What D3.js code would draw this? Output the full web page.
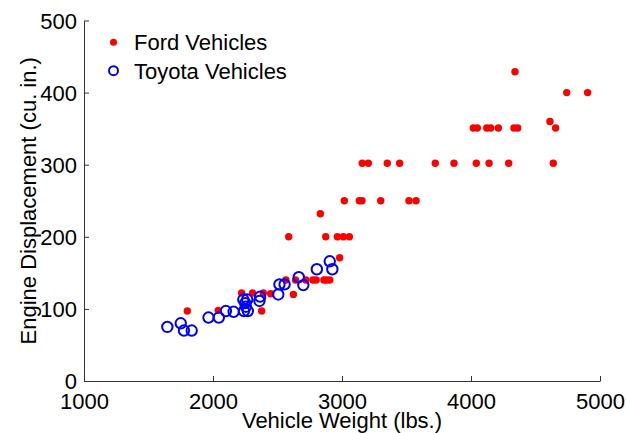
<!DOCTYPE html>
<html>
<head>
<meta charset="utf-8">
<script src="https://cdn.jsdelivr.net/npm/d3@7"></script>
<style>
  html, body { margin: 0; padding: 0; background: #fff; }
  svg { display: block; font-family: "Liberation Sans", Arial, Helvetica, sans-serif; }
</style>
</head>
<body>
<svg id="chart" width="626" height="433"></svg>
<script>
// ---- Data ----
const fordWeight = [1801, 2041, 2222, 2307, 2390, 2447, 2377, 2623,
  2565, 2640, 2720, 2775, 2800, 2860, 2880, 2905,
  2982, 2832,
  2587, 2874, 2964, 3010, 3057,
  3018, 3134, 3155, 3300, 3519, 3574,
  3157, 3204, 3351, 3447, 3723, 3868, 4041, 4140, 4292, 4638,
  4018, 4049, 4122, 4153, 4212, 4333, 4362, 4656,
  4612, 4742, 4904, 4341];
const fordDisp = [97, 98, 122, 122, 122, 121, 97, 120,
  140, 140, 140, 140, 140, 140, 140, 140,
  171, 232,
  200, 200, 200, 200, 200,
  250, 250, 250, 250, 250, 250,
  302, 302, 302, 302, 302, 302, 302, 302, 302, 302,
  351, 351, 351, 351, 351, 351, 351, 351,
  360, 400, 400, 429];

const toyotaWeight = [1646, 1750, 1775, 1835, 1965, 2045, 2100, 2160,
  2235, 2250, 2265, 2255, 2240, 2270, 2360, 2365,
  2506, 2515, 2555, 2665, 2700, 2805, 2905, 2925];
const toyotaDisp = [75, 80, 70, 70, 88, 88, 97, 96,
  113, 108, 113, 103, 97, 97, 111, 117,
  120, 134, 134, 144, 133, 155, 166, 155];

const xTicks = [1000, 2000, 3000, 4000, 5000];
const yTicks = [0, 100, 200, 300, 400, 500];
const seriesNames = ["Ford Vehicles", "Toyota Vehicles"];
const xTitle = "Vehicle Weight (lbs.)";
const yTitle = "Engine Displacement (cu. in.)";

// ---- Layout ----
const svg = d3.select("#chart");
const FS = 22;
const x = d3.scaleLinear().domain([1000, 5000]).range([84, 600]);
const y = d3.scaleLinear().domain([0, 500]).range([381, 20.5]);

// axes
const xAxis = d3.axisBottom(x).tickValues(xTicks).tickFormat(d3.format("d"))
  .tickSizeInner(-5).tickSizeOuter(0).tickPadding(12);
const yAxis = d3.axisLeft(y).tickValues(yTicks).tickFormat(d3.format("d"))
  .tickSizeInner(-5).tickSizeOuter(0).tickPadding(7);

const gx = svg.append("g").attr("transform", `translate(0,${y(0)})`).call(xAxis);
const gy = svg.append("g").attr("transform", `translate(${x(1000)},0)`).call(yAxis);

[gx, gy].forEach(g => {
  g.select(".domain").attr("stroke", "#333").attr("stroke-width", 1);
  g.selectAll(".tick line").attr("stroke", "#333").attr("stroke-width", 1);
  g.selectAll(".tick text").attr("fill", "#000").attr("font-size", FS)
    .attr("font-family", "Liberation Sans, Arial, sans-serif");
});
gx.selectAll(".tick text").attr("dy", "0.71em");
gy.selectAll(".tick text").attr("dy", "0.35em");

// axis titles
svg.append("text")
  .attr("x", (x(1000) + x(5000)) / 2).attr("y", 428)
  .attr("text-anchor", "middle").attr("font-size", FS).attr("fill", "#000")
  .text(xTitle);
svg.append("text")
  .attr("transform", `translate(36,${(y(0) + y(500)) / 2}) rotate(-90)`)
  .attr("text-anchor", "middle").attr("font-size", FS).attr("fill", "#000")
  .text(yTitle);

// points
const ford = fordWeight.map((w, i) => ({ w, d: fordDisp[i] }));
const toyota = toyotaWeight.map((w, i) => ({ w, d: toyotaDisp[i] }));

svg.append("g").selectAll("circle").data(ford).join("circle")
  .attr("cx", d => x(d.w)).attr("cy", d => y(d.d)).attr("r", 3.7)
  .attr("fill", "#ff0000");

svg.append("g").selectAll("circle").data(toyota).join("circle")
  .attr("cx", d => x(d.w)).attr("cy", d => y(d.d)).attr("r", 5.2)
  .attr("fill", "none").attr("stroke", "#0000ff").attr("stroke-width", 2);

// legend
const leg = svg.append("g");
leg.append("circle").attr("cx", 113.5).attr("cy", 42.3).attr("r", 3.5).attr("fill", "#ff0000");
leg.append("circle").attr("cx", 113.5).attr("cy", 70.7).attr("r", 4.5)
  .attr("fill", "none").attr("stroke", "#0000ff").attr("stroke-width", 2);
leg.append("text").attr("x", 134).attr("y", 50).attr("font-size", FS).attr("fill", "#000").text(seriesNames[0]);
leg.append("text").attr("x", 134).attr("y", 78.5).attr("font-size", FS).attr("fill", "#000").text(seriesNames[1]);
</script>
</body>
</html>
